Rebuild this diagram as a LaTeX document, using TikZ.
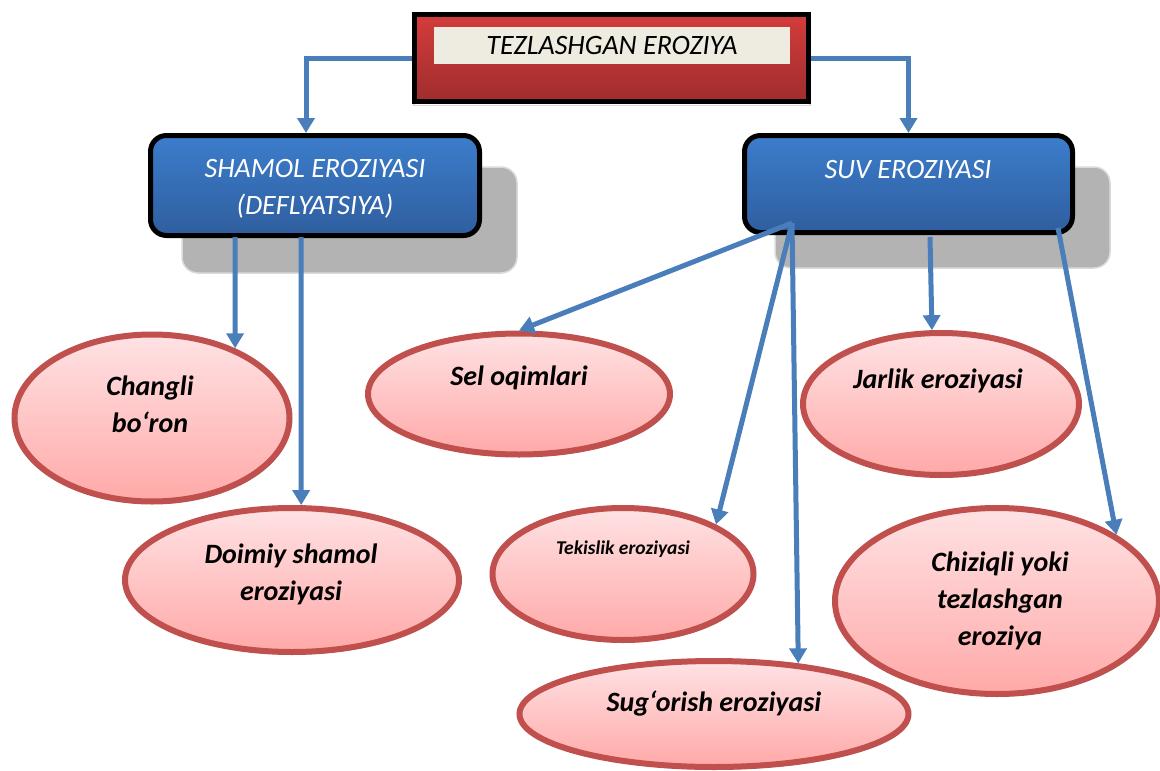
\documentclass[tikz,border=0pt]{standalone}
\usepackage{fontspec}
\setmainfont{Carlito}
\usetikzlibrary{arrows.meta,shapes.geometric,shadows}
\definecolor{connc}{HTML}{4A7EBB}
\definecolor{leafb}{HTML}{C0504D}
\definecolor{leaftop}{HTML}{FFE2E4}
\definecolor{leafbot}{HTML}{FFA9A8}
\definecolor{bluetop}{HTML}{3C7DCC}
\definecolor{bluebot}{HTML}{2F5E9E}
\definecolor{redtop}{HTML}{D43C3C}
\definecolor{redbot}{HTML}{A02D2D}
\definecolor{cream}{HTML}{EEEBE0}
\definecolor{shfill}{HTML}{B3B3B3}
\definecolor{shline}{HTML}{DADADA}
\begin{document}
\begin{tikzpicture}[x=1pt,y=-1pt,
  conn/.style={draw=connc, line width=5pt, -{Triangle[width=17pt,length=15pt]}},
  leaf/.style={ellipse, draw=leafb, line width=6pt, top color=leaftop, bottom color=leafbot, inner sep=0pt,
     drop shadow={shadow xshift=1.5pt, shadow yshift=-2.5pt, fill=black!40, opacity=.8}},
  leaftext/.style={font=\fontsize{28}{37}\selectfont\bfseries\itshape, align=center, inner sep=0pt},
  bluebox/.style={rectangle, rounded corners=16pt, draw=black, line width=5pt, top color=bluetop, bottom color=bluebot, inner sep=0pt},
  boxshadow/.style={rectangle, rounded corners=16pt, draw=shline, line width=1.5pt, fill=shfill, inner sep=0pt},
  bluetext/.style={font=\fontsize{28}{37}\selectfont\itshape, text=white, align=center, inner sep=0pt}
]
\useasboundingbox (0,0) rectangle (1160,771);
\fill[white] (0,0) rectangle (1160,771);

% top box
\node[rectangle, draw=black!15, line width=1.5pt, minimum width=396pt, minimum height=89pt, inner sep=0pt] (topsh) at (612,61) {};
\node[rectangle, draw=black, line width=5pt, top color=redtop, bottom color=redbot, minimum width=394pt, minimum height=87pt, inner sep=0pt] (top) at (611.5,58) {};
\node[rectangle, fill=cream, minimum width=356pt, minimum height=37pt, inner sep=0pt] (topin) at (612,45.5) {};
\node[font=\fontsize{28}{30}\selectfont\itshape, inner sep=0pt] (toptext) at (612,46) {TEZLASHGAN EROZIYA};

% second level
\node[boxshadow, minimum width=335pt, minimum height=106pt] (shamolsh) at (349.5,220) {};
\node[boxshadow, minimum width=335pt, minimum height=101pt] (suvsh) at (942.5,217.5) {};
\node[bluebox, minimum width=329pt, minimum height=100pt] (shamol) at (315,185.5) {};
\node[bluebox, minimum width=328pt, minimum height=97pt] (suv) at (908.5,184) {};
\node[bluetext] (shamoltext) at (315,189) {SHAMOL EROZIYASI\\(DEFLYATSIYA)};
\node[bluetext] (suvtext) at (908,170) {SUV EROZIYASI};

% leaves
\node[leaf, minimum width=275pt, minimum height=167pt] (changli) at (152,418) {};
\node[leaf, minimum width=334pt, minimum height=144pt] (doimiy) at (292,580) {};
\node[leaf, minimum width=302pt, minimum height=121pt] (sel) at (519,394) {};
\node[leaf, minimum width=276pt, minimum height=142pt] (jarlik) at (941,404) {};
\node[leaf, minimum width=261pt, minimum height=132pt] (tekislik) at (623,574) {};
\node[leaf, minimum width=389pt, minimum height=106pt] (sug) at (714,714) {};
\node[leaf, minimum width=324pt, minimum height=186pt] (chiz) at (997,601) {};

\node[leaftext] (changlit) at (150,404) {Changli\\bo‘ron};
\node[leaftext] (doimiyt) at (291,574) {Doimiy shamol\\eroziyasi};
\node[leaftext] (selt) at (519,378) {Sel oqimlari};
\node[leaftext] (jarlikt) at (938,381) {Jarlik eroziyasi};
\node[leaftext, font=\fontsize{19.5}{24}\selectfont\bfseries\itshape] (tekislikt) at (623,549) {Tekislik eroziyasi};
\node[leaftext] (sugt) at (714,704) {Sug‘orish eroziyasi};
\node[leaftext] (chizt) at (1000,601) {Chiziqli yoki\\tezlashgan\\eroziya};

% connector start points
\coordinate (s1) at (235,237);
\coordinate (s2) at (301,237);
\coordinate (w0) at (792,223);
\coordinate (w4) at (930,237);
\coordinate (w5) at (1058,228);

% connectors
\draw[conn] (top.west) -| ([xshift=-9pt]shamol.north);
\draw[conn] (top.east) -| (suv.north);
\draw[conn] (s1) -- (changli.40);
\draw[conn] (s2) -- (doimiy.83);
\draw[conn] (w0) -- (sel.north);
\draw[conn] (w0) -- (tekislik.28);
\draw[conn] (w0) -- (sug.31);
\draw[conn] (w4) -- (jarlik.97);
\draw[conn] (w5) -- (chiz.29);
\end{tikzpicture}
\end{document}
